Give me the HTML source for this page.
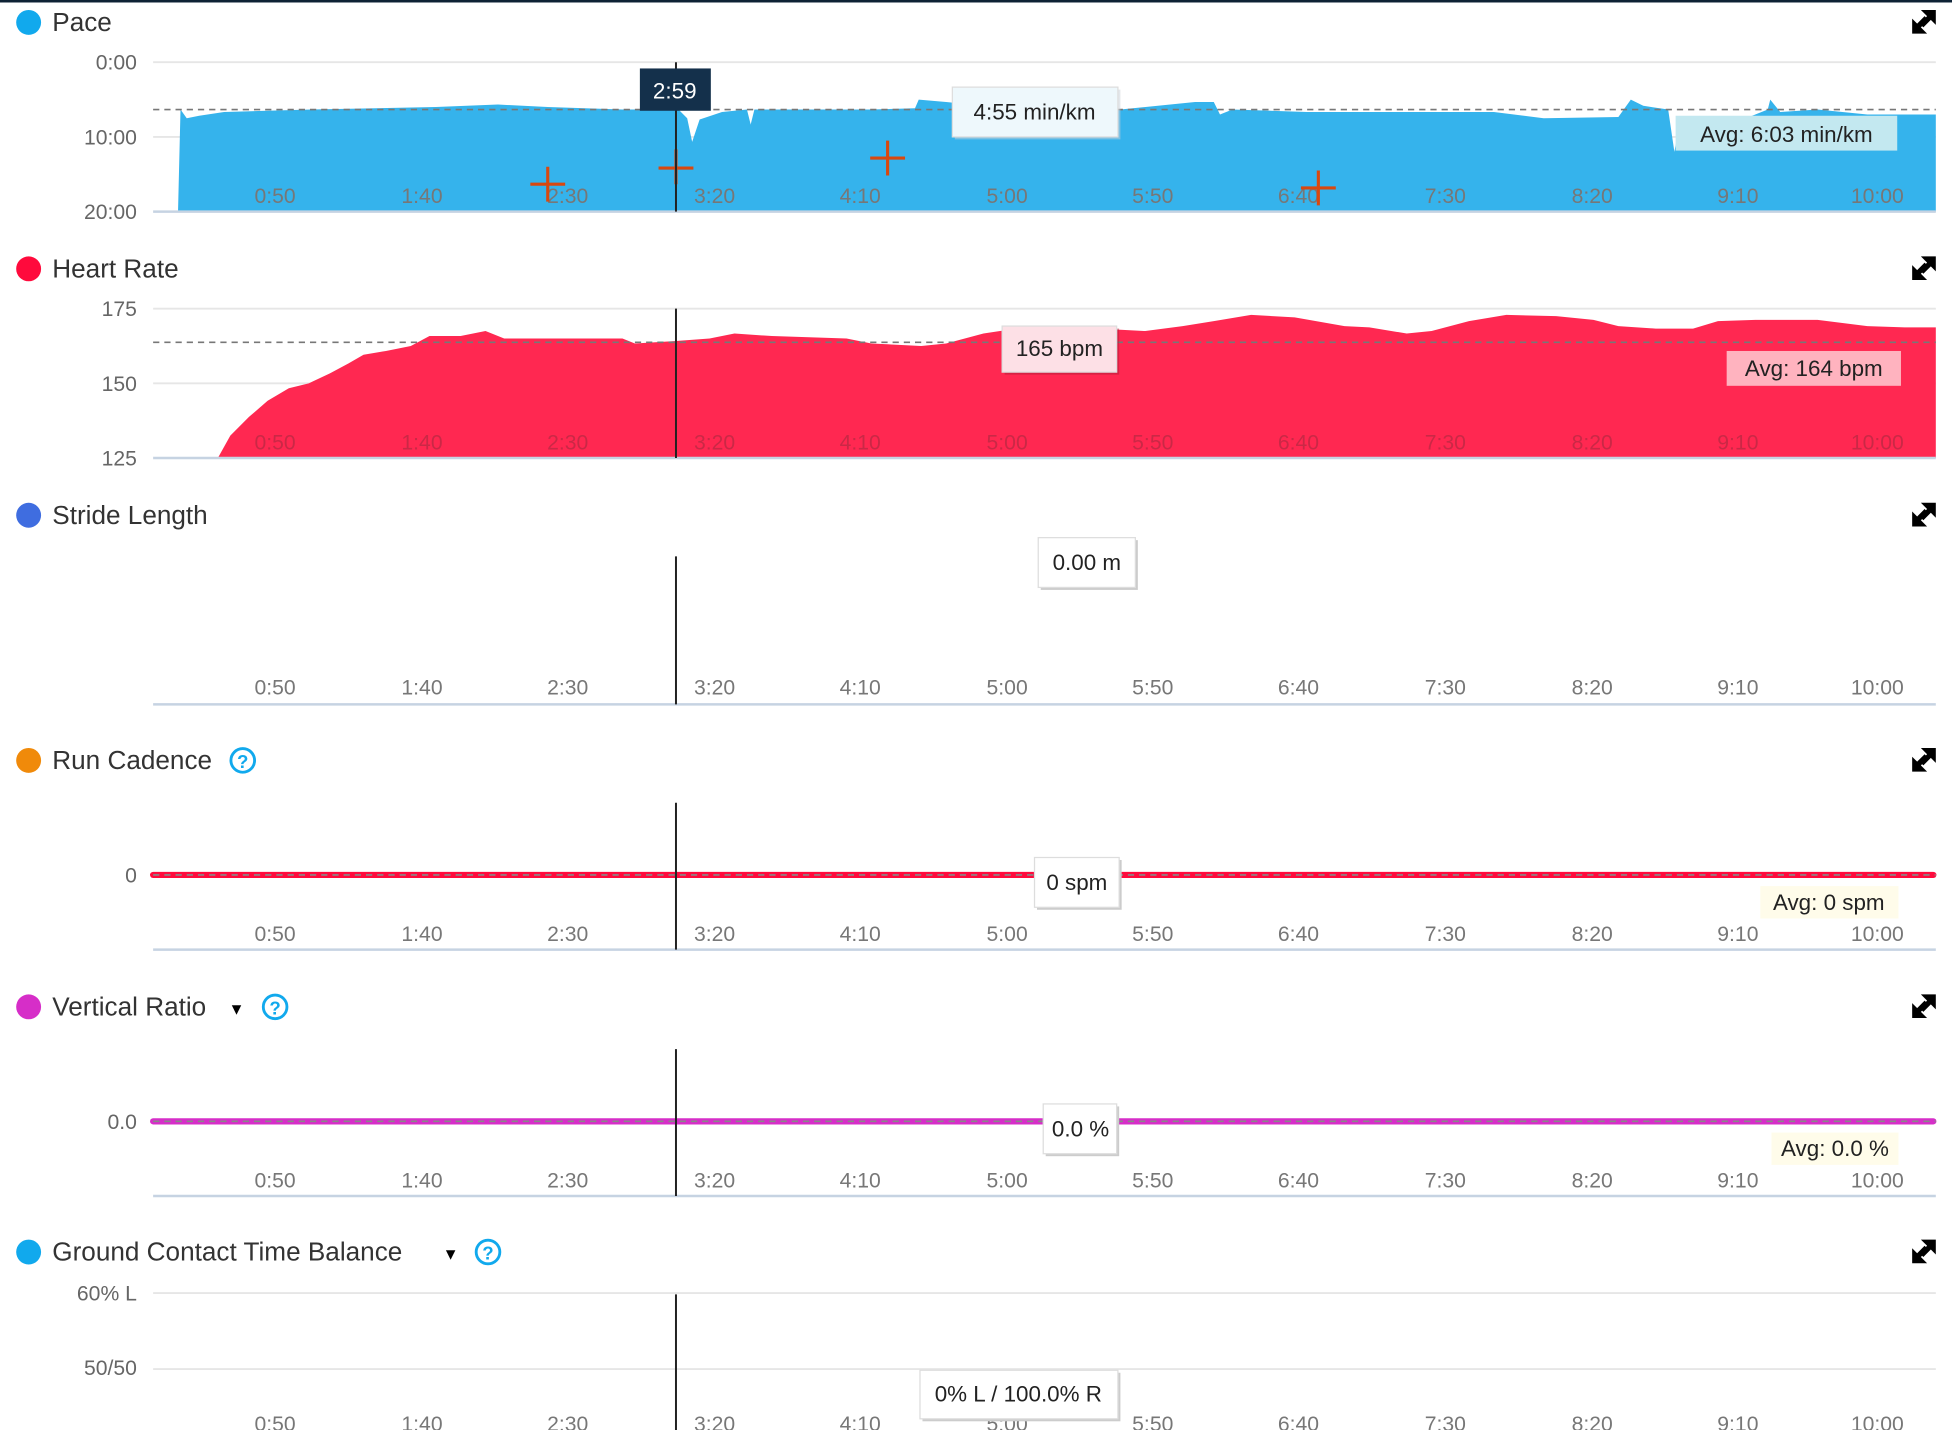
<!DOCTYPE html>
<html><head><meta charset="utf-8"><style>
html,body{margin:0;padding:0;background:#fff;overflow:hidden}
svg{display:block}
text{font-family:"Liberation Sans",sans-serif}
.t{font-size:21px;fill:#333}
.yl{font-size:17px;fill:#666;text-anchor:end}
.xl{font-size:17px;fill:#777;text-anchor:middle}
.xr{font-size:17px;fill:#a8283f;text-anchor:middle;opacity:.6}
.g{stroke:#e6e6e6;stroke-width:1.5}
.ax{stroke:#c6d3e2;stroke-width:2}
.cur{stroke:#222;stroke-width:1.6}
.bx{font-size:18px;fill:#222;text-anchor:middle}
</style></head><body>
<svg width="1952" height="1430" viewBox="0 0 1568 1149" preserveAspectRatio="none" xmlns="http://www.w3.org/2000/svg">
<defs>
<g id="exp"><path d="M1543 8 L1555 8 L1555 20 L1551 16 L1545 22 L1542 19 L1548 13 Z M1536 27 L1536 15 L1540 19 L1546 13 L1549 16 L1543 22 L1548 27 Z" fill="#000"/></g>
<g id="xt">
<text x="221" class="xl">0:50</text><text x="339" class="xl">1:40</text><text x="456" class="xl">2:30</text><text x="574" class="xl">3:20</text><text x="691" class="xl">4:10</text><text x="809" class="xl">5:00</text><text x="926" class="xl">5:50</text><text x="1043" class="xl">6:40</text><text x="1161" class="xl">7:30</text><text x="1279" class="xl">8:20</text><text x="1396" class="xl">9:10</text><text x="1508" class="xl">10:00</text>
</g>
<g id="xr">
<text x="221" class="xr">0:50</text><text x="339" class="xr">1:40</text><text x="456" class="xr">2:30</text><text x="574" class="xr">3:20</text><text x="691" class="xr">4:10</text><text x="809" class="xr">5:00</text><text x="926" class="xr">5:50</text><text x="1043" class="xr">6:40</text><text x="1161" class="xr">7:30</text><text x="1279" class="xr">8:20</text><text x="1396" class="xr">9:10</text><text x="1508" class="xr">10:00</text>
</g>
</defs>
<rect x="0" y="0" width="1568" height="2" fill="#0e2235"/>

<!-- Pace -->
<circle cx="23" cy="18" r="10" fill="#11a9ed"/><text x="42" y="25" class="t">Pace</text>
<use href="#exp"/>
<text x="110" y="56" class="yl">0:00</text><text x="110" y="116" class="yl">10:00</text><text x="110" y="176" class="yl">20:00</text>
<line x1="123" y1="50" x2="1555" y2="50" class="g"/><line x1="123" y1="110" x2="1555" y2="110" class="g"/>
<polygon fill="#35b3ec" points="143,170 145,88 150,95 160,93 180,90 250,88 350,86 400,84 440,86 500,88 545,88 552,95 556,114 562,96 580,90 600,88 603,100 606,88 700,88 735,87 738,80 760,82 800,86 900,88 960,82 975,82 980,92 990,88 1050,90 1200,90 1240,95 1300,94 1310,80 1320,85 1340,88 1345,122 1350,95 1370,95 1400,96 1420,88 1422,80 1430,90 1460,88 1500,92 1555,92 1555,170"/>
<line x1="123" y1="170" x2="1555" y2="170" class="ax"/>
<line x1="123" y1="88" x2="1555" y2="88" stroke="#777" stroke-width="1.3" stroke-dasharray="5,4"/>
<g transform="translate(0,163)"><use href="#xt"/></g>
<g stroke="#d9480f" stroke-width="2.5"><path d="M440 134v28M426 148h28M543 120v28M529 135h28M713 113v28M699 127h28M1059 137v28M1045 151h28"/></g>
<line x1="543" y1="50" x2="543" y2="170" class="cur"/>
<rect x="514" y="55" width="57" height="34" fill="#14304b"/><text x="542" y="79" class="bx" fill="#fff" style="fill:#fff">2:59</text>
<rect x="767" y="72" width="133" height="40" fill="#c8d0d8" opacity=".5"/>
<rect x="765" y="70" width="133" height="40" fill="#eef8fc" stroke="#ddd"/><text x="831" y="96" class="bx">4:55 min/km</text>
<rect x="1346" y="93" width="178" height="28" fill="#c3e8f0"/><text x="1435" y="114" class="bx">Avg: 6:03 min/km</text>

<!-- Heart rate -->
<circle cx="23" cy="216" r="10" fill="#ff0a3c"/><text x="42" y="223" class="t">Heart Rate</text>
<use href="#exp" transform="translate(0,198)"/>
<text x="110" y="254" class="yl">175</text><text x="110" y="314" class="yl">150</text><text x="110" y="374" class="yl">125</text>
<line x1="123" y1="248" x2="1555" y2="248" class="g"/><line x1="123" y1="308" x2="1555" y2="308" class="g"/>
<polygon fill="#ff2851" points="175,368 185,350 200,335 215,322 232,312 248,308 265,300 280,292 292,285 310,282 330,278 345,270 370,270 390,266 405,272 440,272 500,272 510,276 543,274 570,272 590,268 620,270 680,272 700,276 740,278 760,276 790,268 810,265 900,265 920,266 950,262 975,258 1005,253 1040,255 1080,262 1100,263 1130,268 1150,266 1180,258 1210,253 1250,254 1280,257 1300,262 1330,264 1360,264 1380,258 1410,257 1460,257 1500,262 1530,263 1555,263 1555,368"/>
<line x1="123" y1="368" x2="1555" y2="368" class="ax"/>
<line x1="123" y1="275" x2="1555" y2="275" stroke="#777" stroke-width="1.3" stroke-dasharray="5,4"/>
<g transform="translate(0,361)"><use href="#xr"/></g>
<line x1="543" y1="248" x2="543" y2="368" class="cur"/>
<rect x="807" y="264" width="92" height="37" fill="#b01c38" opacity=".5"/>
<rect x="805" y="262" width="92" height="37" fill="#fde0e6" stroke="#ddd"/><text x="851" y="286" class="bx">165 bpm</text>
<rect x="1387" y="282" width="140" height="28" fill="#ffb3bf"/><text x="1457" y="302" class="bx">Avg: 164 bpm</text>

<!-- Stride -->
<circle cx="23" cy="414" r="10" fill="#3f6de0"/><text x="42" y="421" class="t">Stride Length</text>
<use href="#exp" transform="translate(0,396)"/>
<line x1="123" y1="566" x2="1555" y2="566" class="ax"/>
<g transform="translate(0,558)"><use href="#xt"/></g>
<line x1="543" y1="447" x2="543" y2="566" class="cur"/>
<rect x="836" y="434" width="78" height="40" fill="#ccc"/>
<rect x="834" y="432" width="78" height="40" fill="#fff" stroke="#ddd"/><text x="873" y="458" class="bx">0.00 m</text>

<!-- Cadence -->
<circle cx="23" cy="611" r="10" fill="#f08a0a"/><text x="42" y="618" class="t">Run Cadence</text>
<circle cx="195" cy="611" r="9.5" fill="none" stroke="#11a9ed" stroke-width="2.3"/><text x="195" y="617" font-size="15" fill="#11a9ed" text-anchor="middle" font-weight="bold">?</text>
<use href="#exp" transform="translate(0,593)"/>
<text x="110" y="709" class="yl">0</text>
<line x1="123" y1="703" x2="1553" y2="703" stroke="#ff0a3c" stroke-width="5" stroke-linecap="round"/>
<line x1="123" y1="703" x2="1555" y2="703" stroke="#888" stroke-width="1.3" stroke-dasharray="5,4"/>
<line x1="123" y1="763" x2="1555" y2="763" class="ax"/>
<g transform="translate(0,756)"><use href="#xt"/></g>
<line x1="543" y1="645" x2="543" y2="763" class="cur"/>
<rect x="833" y="691" width="68" height="40" fill="#ccc"/>
<rect x="831" y="689" width="68" height="40" fill="#fff" stroke="#ddd"/><text x="865" y="715" class="bx">0 spm</text>
<rect x="1414" y="712" width="111" height="26" fill="#fffcea"/><text x="1469" y="731" class="bx">Avg: 0 spm</text>

<!-- Vertical ratio -->
<circle cx="23" cy="809" r="10" fill="#d62ec8"/><text x="42" y="816" class="t">Vertical Ratio</text>
<text x="190" y="815" font-size="13" fill="#000" text-anchor="middle">▼</text>
<circle cx="221" cy="809" r="9.5" fill="none" stroke="#11a9ed" stroke-width="2.3"/><text x="221" y="815" font-size="15" fill="#11a9ed" text-anchor="middle" font-weight="bold">?</text>
<use href="#exp" transform="translate(0,791)"/>
<text x="110" y="907" class="yl">0.0</text>
<line x1="123" y1="901" x2="1553" y2="901" stroke="#d62ec8" stroke-width="5" stroke-linecap="round"/>
<line x1="123" y1="901" x2="1555" y2="901" stroke="#888" stroke-width="1.3" stroke-dasharray="5,4"/>
<line x1="123" y1="961" x2="1555" y2="961" class="ax"/>
<g transform="translate(0,954)"><use href="#xt"/></g>
<line x1="543" y1="843" x2="543" y2="961" class="cur"/>
<rect x="840" y="889" width="59" height="40" fill="#ccc"/>
<rect x="838" y="887" width="59" height="40" fill="#fff" stroke="#ddd"/><text x="868" y="913" class="bx">0.0 %</text>
<rect x="1423" y="910" width="102" height="26" fill="#fffcea"/><text x="1474" y="929" class="bx">Avg: 0.0 %</text>

<!-- GCT balance -->
<circle cx="23" cy="1006" r="10" fill="#11a9ed"/><text x="42" y="1013" class="t">Ground Contact Time Balance</text>
<text x="362" y="1012" font-size="13" fill="#000" text-anchor="middle">▼</text>
<circle cx="392" cy="1006" r="9.5" fill="none" stroke="#11a9ed" stroke-width="2.3"/><text x="392" y="1012" font-size="15" fill="#11a9ed" text-anchor="middle" font-weight="bold">?</text>
<use href="#exp" transform="translate(0,988)"/>
<text x="110" y="1045" class="yl">60% L</text><text x="110" y="1105" class="yl">50/50</text>
<line x1="123" y1="1039" x2="1555" y2="1039" class="g"/><line x1="123" y1="1100" x2="1555" y2="1100" class="g"/>
<g transform="translate(0,1150)"><use href="#xt"/></g>
<line x1="543" y1="1040" x2="543" y2="1149" class="cur"/>
<rect x="741" y="1103" width="159" height="39" fill="#ccc"/>
<rect x="739" y="1101" width="159" height="39" fill="#fff" stroke="#ddd"/><text x="818" y="1126" class="bx">0% L / 100.0% R</text>
</svg>
</body></html>
